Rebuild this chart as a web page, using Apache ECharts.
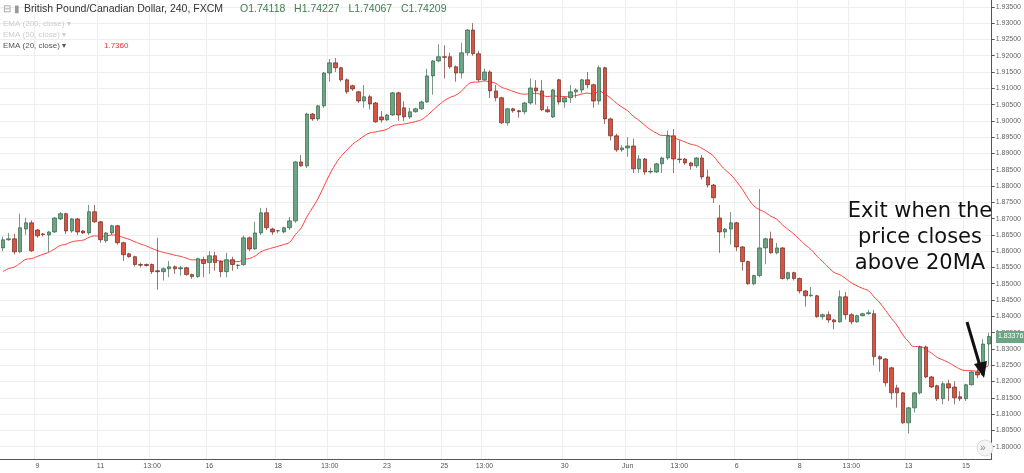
<!DOCTYPE html>
<html><head><meta charset="utf-8">
<script src="https://cdn.jsdelivr.net/npm/echarts@6/dist/echarts.min.js"></script>
<style>html,body{margin:0;padding:0;background:#fff}#c{width:1024px;height:473px}</style>
</head><body><div id="c"></div>
<script>
const opens=[1.8610,1.8635,1.8638,1.8598,1.8668,1.8687,1.8665,1.8653,1.8650,1.8659,1.8699,1.8715,1.8662,1.8699,1.8662,1.8656,1.8721,1.8690,1.8632,1.8656,1.8678,1.8626,1.8592,1.8583,1.8559,1.8559,1.8559,1.8540,1.8537,1.8546,1.8552,1.8546,1.8549,1.8528,1.8522,1.8574,1.8565,1.8586,1.8568,1.8537,1.8574,1.8556,1.8559,1.8641,1.8607,1.8656,1.8718,1.8668,1.8662,1.8659,1.8672,1.8693,1.8874,1.8862,1.9021,1.9006,1.9046,1.9147,1.9178,1.9163,1.9126,1.9108,1.9089,1.9061,1.9074,1.9055,1.9012,1.9003,1.9018,1.9086,1.9040,1.9012,1.9028,1.9037,1.9058,1.9138,1.9184,1.9197,1.9197,1.9166,1.9147,1.9209,1.9279,1.9206,1.9126,1.9150,1.9092,1.9071,1.8994,1.9037,1.9031,1.9028,1.9055,1.9101,1.9092,1.9034,1.9012,1.9126,1.9058,1.9071,1.9089,1.9095,1.9126,1.9111,1.9061,1.9163,1.9006,1.8954,1.8911,1.8917,1.8923,1.8853,1.8883,1.8843,1.8843,1.8868,1.8886,1.8954,1.8883,1.8883,1.8871,1.8862,1.8886,1.8828,1.8803,1.8702,1.8659,1.8668,1.8687,1.8613,1.8568,1.8500,1.8525,1.8610,1.8638,1.8595,1.8610,1.8516,1.8534,1.8516,1.8478,1.8463,1.8463,1.8399,1.8405,1.8389,1.8383,1.8460,1.8405,1.8383,1.8402,1.8408,1.8408,1.8276,1.8269,1.8242,1.8180,1.8165,1.8073,1.8119,1.8165,1.8306,1.8214,1.8187,1.8147,1.8193,1.8183,1.8153,1.8147,1.8190,1.8229,1.8220,1.8315];
const closes=[1.8635,1.8638,1.8598,1.8672,1.8687,1.8601,1.8647,1.8651,1.8659,1.8702,1.8715,1.8662,1.8699,1.8659,1.8656,1.8721,1.8690,1.8635,1.8656,1.8678,1.8626,1.8589,1.8583,1.8559,1.8557,1.8556,1.8537,1.8537,1.8546,1.8552,1.8546,1.8549,1.8528,1.8522,1.8577,1.8562,1.8586,1.8565,1.8537,1.8574,1.8559,1.8557,1.8641,1.8607,1.8656,1.8718,1.8672,1.8659,1.8663,1.8672,1.8693,1.8874,1.8862,1.9021,1.9006,1.9046,1.9147,1.9178,1.9163,1.9126,1.9089,1.9098,1.9061,1.9074,1.9052,1.8997,1.9003,1.9018,1.9086,1.9018,1.9012,1.9028,1.9037,1.9058,1.9138,1.9184,1.9197,1.9195,1.9166,1.9147,1.9209,1.9279,1.9206,1.9126,1.9150,1.9092,1.9071,1.8994,1.9037,1.9031,1.9028,1.9055,1.9101,1.9092,1.9034,1.9028,1.9095,1.9058,1.9071,1.9089,1.9095,1.9126,1.9111,1.9061,1.9163,1.9006,1.8954,1.8911,1.8917,1.8923,1.8853,1.8883,1.8843,1.8845,1.8868,1.8886,1.8954,1.8883,1.8881,1.8871,1.8862,1.8886,1.8828,1.8803,1.8764,1.8659,1.8668,1.8687,1.8613,1.8568,1.8500,1.8525,1.8610,1.8638,1.8595,1.8610,1.8516,1.8534,1.8516,1.8478,1.8463,1.8465,1.8399,1.8405,1.8389,1.8383,1.8460,1.8405,1.8383,1.8402,1.8408,1.8411,1.8276,1.8269,1.8196,1.8165,1.8165,1.8073,1.8119,1.8165,1.8306,1.8214,1.8183,1.8147,1.8193,1.8180,1.8150,1.8147,1.8190,1.8229,1.8220,1.8315,1.8338];
const lows=[1.8600,1.8632,1.8590,1.8595,1.8650,1.8598,1.8641,1.8645,1.8598,1.8656,1.8695,1.8653,1.8656,1.8650,1.8653,1.8650,1.8687,1.8626,1.8626,1.8650,1.8620,1.8570,1.8580,1.8553,1.8550,1.8553,1.8530,1.8482,1.8510,1.8520,1.8530,1.8525,1.8525,1.8515,1.8518,1.8520,1.8530,1.8540,1.8520,1.8520,1.8540,1.8545,1.8555,1.8600,1.8604,1.8650,1.8665,1.8650,1.8655,1.8655,1.8665,1.8687,1.8859,1.8855,1.9000,1.9000,1.9040,1.9120,1.9150,1.9120,1.9083,1.9092,1.9055,1.9040,1.9035,1.8994,1.8995,1.9000,1.9015,1.9000,1.9000,1.9006,1.9025,1.9034,1.9055,1.9080,1.9180,1.9130,1.9160,1.9120,1.9130,1.9200,1.9200,1.9120,1.9123,1.9070,1.9060,1.8990,1.8985,1.9025,1.9010,1.9020,1.9050,1.9050,1.9030,1.9025,1.9009,1.9050,1.9040,1.9055,1.9070,1.9085,1.9100,1.9040,1.9050,1.8990,1.8940,1.8905,1.8905,1.8890,1.8840,1.8840,1.8835,1.8838,1.8840,1.8840,1.8880,1.8840,1.8870,1.8865,1.8850,1.8855,1.8820,1.8795,1.8748,1.8595,1.8640,1.8620,1.8600,1.8540,1.8497,1.8495,1.8520,1.8560,1.8592,1.8590,1.8513,1.8510,1.8510,1.8470,1.8430,1.8460,1.8396,1.8390,1.8380,1.8360,1.8380,1.8390,1.8375,1.8380,1.8400,1.8405,1.8250,1.8230,1.8185,1.8145,1.8120,1.8070,1.8040,1.8105,1.8160,1.8210,1.8180,1.8140,1.8130,1.8140,1.8130,1.8140,1.8140,1.8187,1.8210,1.8217,1.8250];
const highs=[1.8645,1.8656,1.8653,1.8715,1.8702,1.8695,1.8668,1.8656,1.8662,1.8705,1.8720,1.8718,1.8702,1.8702,1.8665,1.8742,1.8742,1.8693,1.8659,1.8681,1.8681,1.8629,1.8595,1.8586,1.8565,1.8562,1.8562,1.8641,1.8550,1.8570,1.8556,1.8555,1.8552,1.8531,1.8580,1.8583,1.8600,1.8598,1.8572,1.8595,1.8583,1.8560,1.8648,1.8645,1.8690,1.8733,1.8733,1.8672,1.8665,1.8675,1.8705,1.8877,1.8895,1.9025,1.9024,1.9049,1.9150,1.9190,1.9193,1.9166,1.9130,1.9111,1.9092,1.9110,1.9080,1.9058,1.9030,1.9021,1.9089,1.9089,1.9060,1.9040,1.9040,1.9062,1.9160,1.9187,1.9235,1.9232,1.9209,1.9170,1.9240,1.9282,1.9300,1.9215,1.9160,1.9155,1.9110,1.9074,1.9040,1.9040,1.9034,1.9058,1.9130,1.9125,1.9125,1.9045,1.9098,1.9129,1.9074,1.9110,1.9100,1.9129,1.9150,1.9114,1.9170,1.9166,1.9010,1.8960,1.8925,1.8950,1.8945,1.8895,1.8886,1.8856,1.8871,1.8890,1.8970,1.8975,1.8940,1.8886,1.8874,1.8889,1.8895,1.8850,1.8806,1.8742,1.8671,1.8720,1.8690,1.8616,1.8571,1.8528,1.8791,1.8641,1.8660,1.8625,1.8613,1.8537,1.8537,1.8519,1.8481,1.8490,1.8466,1.8408,1.8415,1.8392,1.8480,1.8475,1.8410,1.8405,1.8411,1.8420,1.8420,1.8280,1.8272,1.8245,1.8190,1.8168,1.8122,1.8168,1.8310,1.8310,1.8217,1.8190,1.8200,1.8205,1.8200,1.8170,1.8193,1.8232,1.8260,1.8330,1.8350];
const tickLabels={6:'9',17:'11',26:'13:00',36:'16',48:'18',57:'13:00',67:'23',77:'25',84:'13:00',98:'30',109:'Jun',118:'13:00',128:'6',139:'8',148:'13:00',158:'13',168:'15'};
const priceTicks=[1.800,1.805,1.810,1.815,1.820,1.825,1.830,1.835,1.840,1.845,1.850,1.855,1.860,1.865,1.870,1.875,1.880,1.885,1.890,1.895,1.900,1.905,1.910,1.915,1.920,1.925,1.930,1.935];
const emaStart=1.8537;
const emaPeriod=20;

const cats=closes.map((_,i)=>String(i));
const kdata=closes.map((c,i)=>[opens[i],c,lows[i],highs[i]]);
const ema=[];let e=emaStart;
closes.forEach((c,i)=>{if(i>0)e=c*2/(emaPeriod+1)+e*(1-2/(emaPeriod+1));ema.push(+e.toFixed(5));});

const chart=echarts.init(document.getElementById('c'));
const FF='"Liberation Sans", Arial, sans-serif';
const txt=(x,y,t,c,fs)=>({type:'text',left:x,top:y,z:100,style:{text:t,fill:c,font:(fs||10)+'px '+FF}});
chart.setOption({
 animation:false,
 grid:{left:0,right:28,top:0,bottom:14},
 xAxis:{type:'category',data:cats,boundaryGap:true,
  axisLine:{lineStyle:{color:'#555'}},axisTick:{show:false},
  axisLabel:{interval:0,formatter:(v)=>tickLabels[v]||'',fontSize:7,color:'#555',fontFamily:'Liberation Sans',margin:4},
  splitLine:{show:true,interval:(i)=>tickLabels[i]!==undefined,lineStyle:{color:'#eeeeee'}}},
 yAxis:{type:'value',position:'right',min:1.7962,max:1.9371,scale:true,
  axisLine:{show:true,lineStyle:{color:'#555'}},
  axisTick:{show:true,customValues:priceTicks,length:3,lineStyle:{color:'#555'}},
  axisLabel:{customValues:priceTicks,formatter:v=>v.toFixed(5),fontSize:7,color:'#666',fontFamily:'Liberation Sans',margin:4},
  splitLine:{show:true,lineStyle:{color:'#eeeeee'}}},
 series:[
  {type:'candlestick',data:kdata,barWidth:4,
   itemStyle:{color:'#6ba583',color0:'#d75442',borderColor:'#225437',borderColor0:'#5b1a13',borderWidth:0.6}},
  {type:'line',data:ema,showSymbol:false,smooth:true,lineStyle:{color:'#ff3b3b',width:1},z:1}
 ],
 graphic:[
  txt(3,4,'⊟ ▮','#999',10),
  txt(24,4,'British Pound/Canadian Dollar, 240, FXCM','#333',10.5),
  txt(240,4,'O1.74118   H1.74227   L1.74067   C1.74209','#3c7d4f',10.5),
  txt(3,20,'EMA (200, close) ▾','#ccc',8),
  txt(3,31,'EMA (50, close) ▾','#ccc',8),
  txt(3,42,'EMA (20, close) ▾','#555',8),
  txt(104,42,'1.7360','#e33',8),
  {type:'rect',left:996,top:331,z:100,shape:{width:28,height:12},style:{fill:'#6ba583'}},
  txt(998,333,'1.83376','#fff',7),
  {type:'text',x:920,y:201,z:100,style:{text:'Exit when the',fill:'#111',font:'21px "DejaVu Sans"',align:'center'}},
  {type:'text',x:920,y:227,z:100,style:{text:'price closes',fill:'#111',font:'21px "DejaVu Sans"',align:'center'}},
  {type:'text',x:920,y:253,z:100,style:{text:'above 20MA',fill:'#111',font:'21px "DejaVu Sans"',align:'center'}},
  {type:'line',z:100,shape:{x1:967,y1:322,x2:980,y2:366},style:{stroke:'#111',lineWidth:3}},
  {type:'polygon',z:100,shape:{points:[[974,364],[987,361],[984,378]]},style:{fill:'#111'}},
  {type:'circle',z:100,shape:{cx:985,cy:448,r:8},style:{fill:'#f4f4f4',stroke:'#ddd'}},
  txt(980,443,'»','#888',10)
 ]
});
</script></body></html>
